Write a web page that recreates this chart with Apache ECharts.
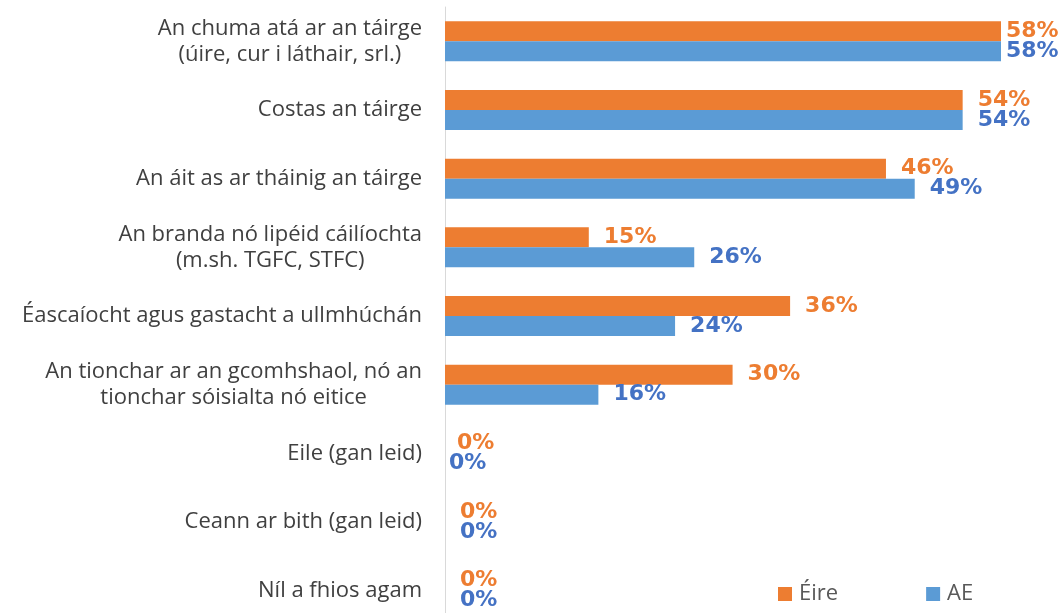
<!DOCTYPE html>
<html>
<head>
<meta charset="utf-8">
<title>Éire agus AE</title>
<script src="https://cdn.jsdelivr.net/npm/echarts@6/dist/echarts.min.js"></script>
<style>
  html, body { margin: 0; padding: 0; background: #fff; }
  #mychart { width: 1064px; height: 613px; }
</style>
</head>
<body>
<div id="mychart"></div>
<script>
// categories, top to bottom
var categories = [
  'An chuma atá ar an táirge\n(úire, cur i láthair, srl.)',
  'Costas an táirge',
  'An áit as ar tháinig an táirge',
  'An branda nó lipéid cáilíochta\n(m.sh. TGFC, STFC)',
  'Éascaíocht agus gastacht a ullmhúchán',
  'An tionchar ar an gcomhshaol, nó an\ntionchar sóisialta nó eitice',
  'Eile (gan leid)',
  'Ceann ar bith (gan leid)',
  'Níl a fhios agam'
];
var eireValues = [58, 54, 46, 15, 36, 30, 0, 0, 0];
var aeValues = [58, 54, 49, 26, 24, 16, 0, 0, 0];
var seriesNames = ['Éire', 'AE'];

var labelFont = '"DejaVu Sans", Verdana, sans-serif';
var textFont = '"Open Sans", "Noto Sans", sans-serif';

// label distance per bar (Excel squeezes the widest labels in)
function makeData(values, tight) {
  return values.map(function (v, i) {
    var d = 15;
    if (i === 0) d = 5;
    if (tight && i === 6) d = 4;
    if (!tight && i === 6) d = 12;
    return { value: v, label: { distance: d } };
  });
}

var option = {
  animation: false,
  grid: { left: 445, right: 63, top: 7, height: 618, outerBoundsMode: 'none' },
  xAxis: {
    type: 'value',
    min: 0,
    max: 58,
    show: false
  },
  yAxis: {
    type: 'category',
    inverse: true,
    data: categories,
    axisLine: { show: true, lineStyle: { color: '#d9d9d9', width: 1 } },
    axisTick: { show: false },
    axisLabel: {
      margin: 23,
      formatter: function (val) {
        return val.split('\n').map(function (s) { return '{c|' + s + '}'; }).join('\n');
      },
      rich: {
        c: {
          align: 'center',
          fontSize: 22,
          lineHeight: 26,
          color: '#404040',
          fontFamily: textFont
        }
      }
    }
  },
  legend: {
    left: 773,
    top: 578,
    icon: 'rect',
    itemWidth: 14,
    itemHeight: 14,
    itemGap: 88,
    textStyle: { fontSize: 22, color: '#595959', fontFamily: textFont, padding: [0, 0, 0, 2] },
    data: seriesNames
  },
  series: [
    {
      name: seriesNames[0],
      type: 'bar',
      barWidth: 20,
      barGap: '0%',
      itemStyle: { color: '#ED7D31' },
      label: {
        show: true,
        position: 'right',
        formatter: '{c}%',
        color: '#ED7D31',
        fontWeight: 'bold',
        fontSize: 22,
        fontFamily: labelFont
      },
      data: makeData(eireValues, false)
    },
    {
      name: seriesNames[1],
      type: 'bar',
      barWidth: 20,
      barGap: '0%',
      itemStyle: { color: '#5B9BD5' },
      label: {
        show: true,
        position: 'right',
        formatter: '{c}%',
        color: '#4472C4',
        fontWeight: 'bold',
        fontSize: 22,
        fontFamily: labelFont
      },
      data: makeData(aeValues, true)
    }
  ]
};

var myChart = echarts.init(document.getElementById('mychart'));
myChart.setOption(option);
</script>
</body>
</html>
